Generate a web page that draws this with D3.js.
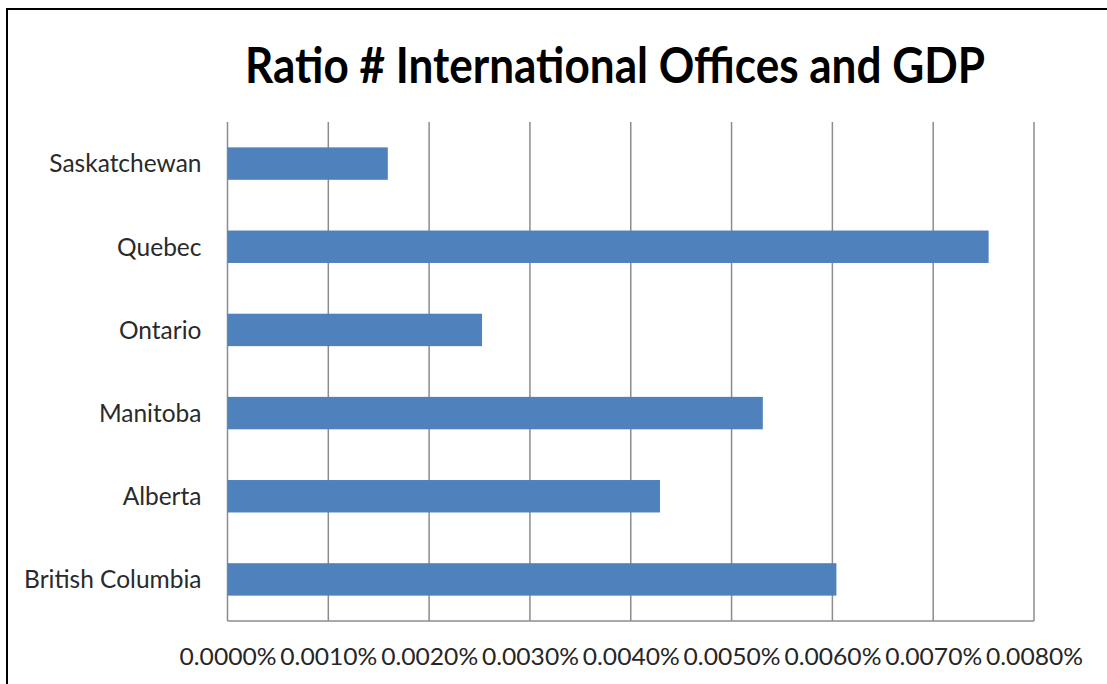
<!DOCTYPE html>
<html>
<head>
<meta charset="utf-8">
<script src="https://cdn.jsdelivr.net/npm/d3@7"></script>
<style>
  html, body { margin: 0; padding: 0; background: #fff; }
  svg { display: block; }
</style>
</head>
<body>
<svg id="chart" width="1107" height="684"></svg>
<script>
const title = "Ratio # International Offices and GDP";
const categories = ["Saskatchewan", "Quebec", "Ontario", "Manitoba", "Alberta", "British Columbia"];
const values = [0.00159, 0.00755, 0.002525, 0.00531, 0.00429, 0.00604]; // in percent
const tickValues = [0, 0.001, 0.002, 0.003, 0.004, 0.005, 0.006, 0.007, 0.008];
const tickLabels = ["0.0000%", "0.0010%", "0.0020%", "0.0030%", "0.0040%", "0.0050%", "0.0060%", "0.0070%", "0.0080%"];

const svg = d3.select("#chart");
const W = 1107, H = 684;
const plot = { left: 227.5, right: 1034, top: 122, bottom: 621 };

// outer chart border (extends past right/bottom edges)
svg.append("rect")
  .attr("x", 7).attr("y", 9)
  .attr("width", W + 20).attr("height", H + 20)
  .attr("fill", "#fff").attr("stroke", "#000").attr("stroke-width", 2);

const x = d3.scaleLinear().domain([0, 0.008]).range([plot.left, plot.right]);
const y = d3.scaleBand().domain(categories).range([plot.top, plot.bottom])
  .paddingInner(0.61).paddingOuter(0.305);

// gridlines
svg.append("g").selectAll("line").data(tickValues).join("line")
  .attr("x1", d => x(d)).attr("x2", d => x(d))
  .attr("y1", plot.top).attr("y2", plot.bottom)
  .attr("stroke", "#8c8c8c").attr("stroke-width", 1.5);

// bars
svg.append("g").selectAll("rect").data(categories).join("rect")
  .attr("x", x(0))
  .attr("y", d => y(d))
  .attr("width", (d, i) => x(values[i]) - x(0))
  .attr("height", y.bandwidth())
  .attr("fill", "#4f81bd");

// bottom axis line
svg.append("line")
  .attr("x1", plot.left).attr("x2", plot.right)
  .attr("y1", plot.bottom).attr("y2", plot.bottom)
  .attr("stroke", "#8c8c8c").attr("stroke-width", 1.5);

// x axis labels
const xAxis = d3.axisBottom(x).tickValues(tickValues)
  .tickFormat((d, i) => tickLabels[i]).tickSize(0).tickPadding(0);
const gx = svg.append("g").attr("transform", `translate(0,${plot.bottom})`).call(xAxis);
gx.select(".domain").remove();
gx.selectAll("text")
  .attr("dy", null).attr("y", 44)
  .attr("font-family", "Lato, sans-serif")
  .attr("font-size", 24)
  .attr("fill", "#262626")
  .attr("textLength", 97).attr("lengthAdjust", "spacingAndGlyphs");

// y axis labels
const yAxis = d3.axisLeft(y).tickSize(0).tickPadding(0);
const gy = svg.append("g").attr("transform", `translate(${plot.left - 26},0)`).call(yAxis);
gy.select(".domain").remove();
gy.selectAll("text")
  .attr("dy", "0.36em")
  .attr("font-family", "Lato, sans-serif")
  .attr("font-size", 24.5)
  .attr("fill", "#2a2a2a");

// title
svg.append("text")
  .attr("x", 615).attr("y", 83)
  .attr("text-anchor", "middle")
  .attr("font-family", "Lato, sans-serif")
  .attr("font-weight", "bold")
  .attr("font-size", 49)
  .attr("fill", "#000")
  .attr("textLength", 740)
  .attr("lengthAdjust", "spacingAndGlyphs")
  .text(title);
</script>
</body>
</html>
